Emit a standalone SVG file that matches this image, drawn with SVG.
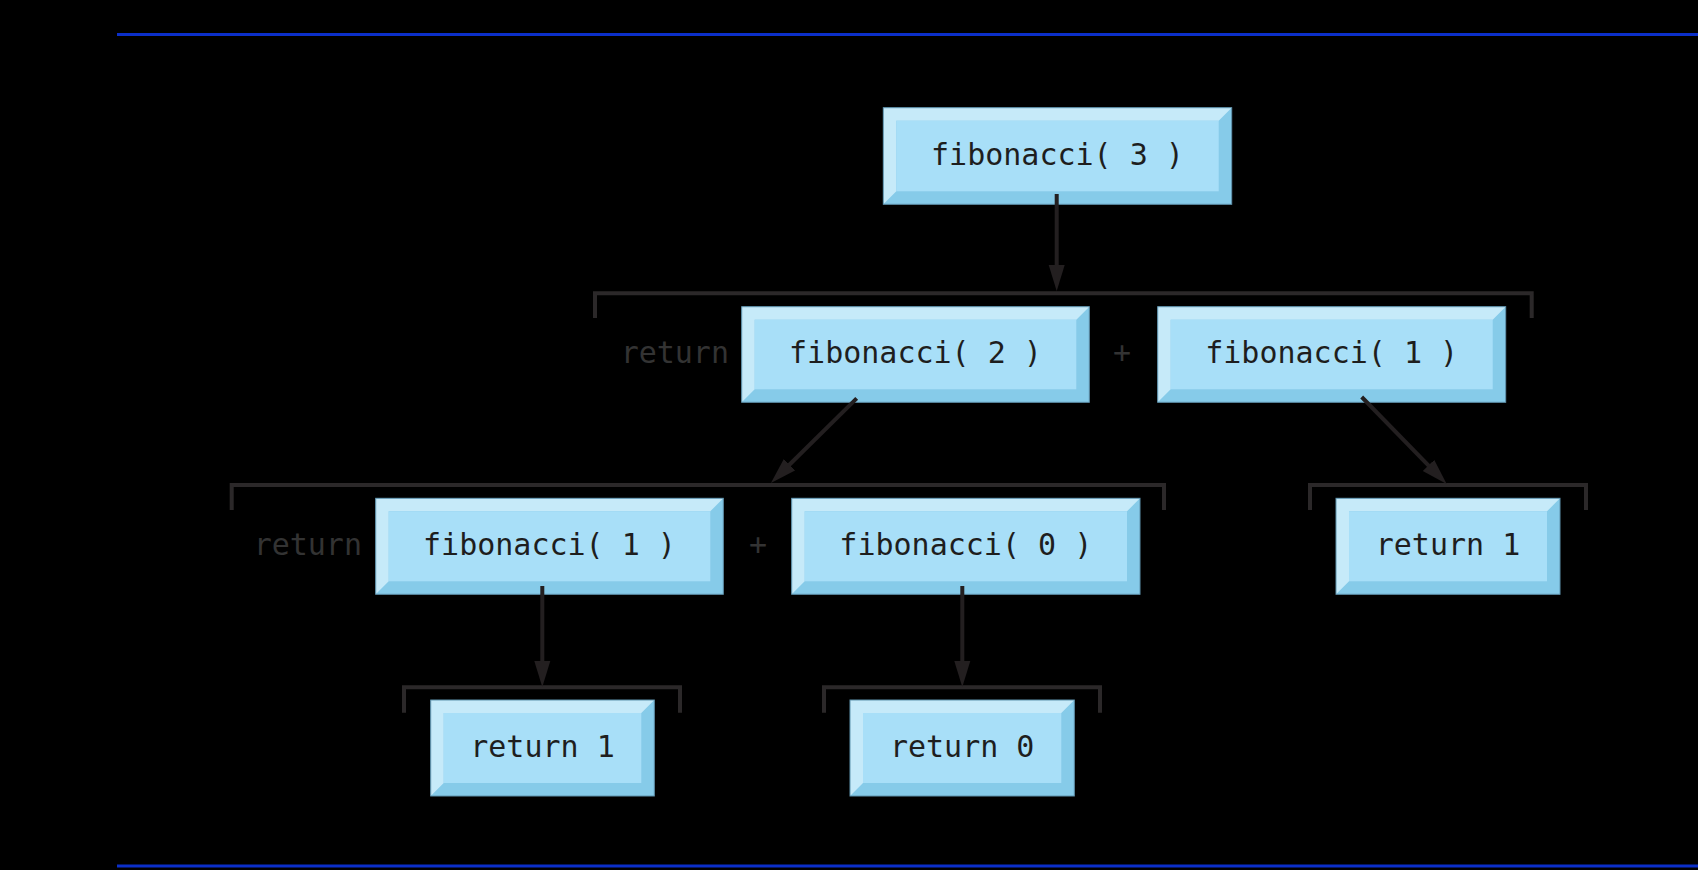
<svg xmlns="http://www.w3.org/2000/svg" width="1698" height="870" viewBox="0 0 1698 870">
<defs>
<style>
.dark{fill:#86cbe9}
.light{fill:#c6eaf9}
.face{fill:#a8dff8}
.outline{fill:none;stroke:#5f93ad;stroke-width:1}
.lbl{font-family:"DejaVu Sans Mono","Liberation Mono",monospace;font-size:30px;fill:#1e1e1e;text-anchor:middle}
.aux{font-family:"DejaVu Sans Mono","Liberation Mono",monospace;font-size:30px;fill:#333333}
.br{fill:none;stroke:#2b2829;stroke-width:4}
.ar{fill:none;stroke:#231f20;stroke-width:4}
.rule{stroke:#0b2fc9;stroke-width:3}
</style>
<marker id="ah" markerUnits="userSpaceOnUse" markerWidth="28" markerHeight="18" refX="4" refY="8" orient="auto" viewBox="0 0 28 16">
<path d="M0,0 L26,8 L0,16 z" fill="#231f20"/>
</marker>
</defs>
<rect x="0" y="0" width="1698" height="870" fill="#000"/>
<line class="rule" x1="117" y1="34.5" x2="1698" y2="34.5"/>
<line class="rule" x1="117" y1="866" x2="1698" y2="866"/>

<g id="labels">
<text class="aux" x="729" y="363.3" text-anchor="end">return</text>
<text class="aux" x="1122" y="363.3" text-anchor="middle">+</text>
<text class="aux" x="362" y="555" text-anchor="end">return</text>
<text class="aux" x="758" y="555" text-anchor="middle">+</text>
</g>

<g id="fib3">
<rect class="dark" x="883.3" y="107.7" width="348.4" height="96.6"/>
<polygon class="light" points="883.3,107.7 1231.7,107.7 1218.7,120.7 896.3,120.7 896.3,191.3 883.3,204.3"/>
<rect class="face" x="896.3" y="120.7" width="322.4" height="70.6"/>
<rect class="outline" x="883.3" y="107.7" width="348.4" height="96.6"/>
<text class="lbl" x="1057.5" y="165">fibonacci( 3 )</text>
</g>

<g id="fib2">
<rect class="dark" x="741.7" y="306.7" width="347.6" height="95.6"/>
<polygon class="light" points="741.7,306.7 1089.3,306.7 1076.3,319.7 754.7,319.7 754.7,389.3 741.7,402.3"/>
<rect class="face" x="754.7" y="319.7" width="321.6" height="69.6"/>
<rect class="outline" x="741.7" y="306.7" width="347.6" height="95.6"/>
<text class="lbl" x="915.5" y="363.3">fibonacci( 2 )</text>
</g>

<g id="fib1a">
<rect class="dark" x="1157.7" y="306.7" width="348" height="95.6"/>
<polygon class="light" points="1157.7,306.7 1505.7,306.7 1492.7,319.7 1170.7,319.7 1170.7,389.3 1157.7,402.3"/>
<rect class="face" x="1170.7" y="319.7" width="322" height="69.6"/>
<rect class="outline" x="1157.7" y="306.7" width="348" height="95.6"/>
<text class="lbl" x="1331.7" y="363.3">fibonacci( 1 )</text>
</g>

<g id="fib1b">
<rect class="dark" x="375.7" y="498.3" width="347.6" height="96"/>
<polygon class="light" points="375.7,498.3 723.3,498.3 710.3,511.3 388.7,511.3 388.7,581.3 375.7,594.3"/>
<rect class="face" x="388.7" y="511.3" width="321.6" height="70"/>
<rect class="outline" x="375.7" y="498.3" width="347.6" height="96"/>
<text class="lbl" x="549.5" y="555.3">fibonacci( 1 )</text>
</g>

<g id="fib0">
<rect class="dark" x="791.7" y="498.3" width="348.3" height="96"/>
<polygon class="light" points="791.7,498.3 1140,498.3 1127,511.3 804.7,511.3 804.7,581.3 791.7,594.3"/>
<rect class="face" x="804.7" y="511.3" width="322.3" height="70"/>
<rect class="outline" x="791.7" y="498.3" width="348.3" height="96"/>
<text class="lbl" x="965.8" y="555.3">fibonacci( 0 )</text>
</g>

<g id="ret1a">
<rect class="dark" x="1336" y="498.3" width="224" height="96"/>
<polygon class="light" points="1336,498.3 1560,498.3 1547,511.3 1349,511.3 1349,581.3 1336,594.3"/>
<rect class="face" x="1349" y="511.3" width="198" height="70"/>
<rect class="outline" x="1336" y="498.3" width="224" height="96"/>
<text class="lbl" x="1448" y="555.3">return 1</text>
</g>

<g id="ret1b">
<rect class="dark" x="430.7" y="700" width="223.6" height="96"/>
<polygon class="light" points="430.7,700 654.3,700 641.3,713 443.7,713 443.7,783 430.7,796"/>
<rect class="face" x="443.7" y="713" width="197.6" height="70"/>
<rect class="outline" x="430.7" y="700" width="223.6" height="96"/>
<text class="lbl" x="542.5" y="757">return 1</text>
</g>

<g id="ret0">
<rect class="dark" x="850" y="700" width="224.3" height="96"/>
<polygon class="light" points="850,700 1074.3,700 1061.3,713 863,713 863,783 850,796"/>
<rect class="face" x="863" y="713" width="198.3" height="70"/>
<rect class="outline" x="850" y="700" width="224.3" height="96"/>
<text class="lbl" x="962.2" y="757">return 0</text>
</g>

<g id="connectors">
<path class="br" d="M595,318 V293.3 H1531.7 V318"/>
<path class="br" d="M231.7,510 V485 H1164 V510"/>
<path class="br" d="M1310,510 V485 H1586 V510"/>
<path class="br" d="M404,712.7 V687.3 H680 V712.7"/>
<path class="br" d="M824,712.7 V687.3 H1100 V712.7"/>
<line class="ar" x1="1056.7" y1="194" x2="1056.7" y2="269" marker-end="url(#ah)"/>
<line class="ar" x1="856.7" y1="398.3" x2="786.6" y2="467.5" marker-end="url(#ah)"/>
<line class="ar" x1="1361.7" y1="397" x2="1431.3" y2="468.3" marker-end="url(#ah)"/>
<line class="ar" x1="542.3" y1="586" x2="542.3" y2="665" marker-end="url(#ah)"/>
<line class="ar" x1="962.3" y1="586" x2="962.3" y2="665" marker-end="url(#ah)"/>
</g>
</svg>
